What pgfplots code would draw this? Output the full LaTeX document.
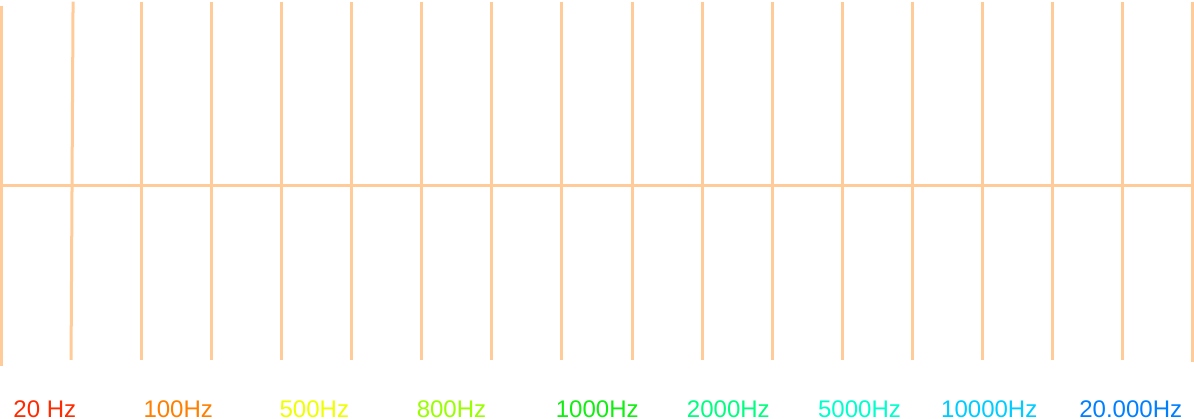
\documentclass[border=0pt]{standalone}
\usepackage{pgfplots}
\pgfplotsset{compat=1.18}
\usepackage{fontspec}
\setmainfont{Liberation Sans}
\definecolor{peach}{HTML}{FFCC99}
\definecolor{c1}{HTML}{FF2A00}
\definecolor{c2}{HTML}{FF7F00}
\definecolor{c3}{HTML}{EEFF00}
\definecolor{c4}{HTML}{99FF00}
\definecolor{c5}{HTML}{11EE11}
\definecolor{c6}{HTML}{00FF80}
\definecolor{c7}{HTML}{00FFCC}
\definecolor{c8}{HTML}{00CCFF}
\definecolor{c9}{HTML}{0080FF}
\tikzset{pl/.style={color=peach, solid, line width=1.5pt, mark=none}}
\begin{document}
\begin{tikzpicture}
\begin{axis}[
  width=597pt, height=212pt, scale only axis,
  axis lines=none,
  xmin=0, xmax=1194, ymin=0, ymax=424, y dir=reverse,
  clip=false,
]
\addplot[pl] coordinates {(1.5,4) (1.5,364)};
\addplot[pl] coordinates {(73,0) (71,358)};
\addplot[pl] coordinates {(141.5,0) (141.5,358)};
\addplot[pl] coordinates {(211.5,0) (211.5,358)};
\addplot[pl] coordinates {(281.5,0) (281.5,358)};
\addplot[pl] coordinates {(351.5,0) (351.5,358)};
\addplot[pl] coordinates {(421.5,0) (421.5,358)};
\addplot[pl] coordinates {(491.5,0) (491.5,358)};
\addplot[pl] coordinates {(561.5,0) (561.5,358)};
\addplot[pl] coordinates {(631.5,0) (631.5,358)};
\addplot[pl] coordinates {(701.5,0) (701.5,358)};
\addplot[pl] coordinates {(771.5,0) (771.5,358)};
\addplot[pl] coordinates {(841.5,0) (841.5,358)};
\addplot[pl] coordinates {(911.5,0) (911.5,358)};
\addplot[pl] coordinates {(981.5,0) (981.5,358)};
\addplot[pl] coordinates {(1051.5,0) (1051.5,358)};
\addplot[pl] coordinates {(1121.5,0) (1121.5,358)};
\addplot[pl] coordinates {(1191.5,0) (1191.5,360)};
\addplot[pl] coordinates {(3,183.5) (1191,183.5)};
\begin{scope}[every node/.style={anchor=base west, inner sep=0pt, font=\fontsize{12}{14}\selectfont}]
\node[text=c1] at (axis cs:13,416) {20 Hz};
\node[text=c2] at (axis cs:143,416) {100Hz};
\node[text=c3] at (axis cs:279,416) {500Hz};
\node[text=c4] at (axis cs:416,416) {800Hz};
\node[text=c5] at (axis cs:555,416) {1000Hz};
\node[text=c6] at (axis cs:686,416) {2000Hz};
\node[text=c7] at (axis cs:817,416) {5000Hz};
\node[text=c8] at (axis cs:940,416) {10000Hz};
\node[text=c9] at (axis cs:1078,416) {20.000Hz};
\end{scope}
\end{axis}
\end{tikzpicture}
\end{document}
